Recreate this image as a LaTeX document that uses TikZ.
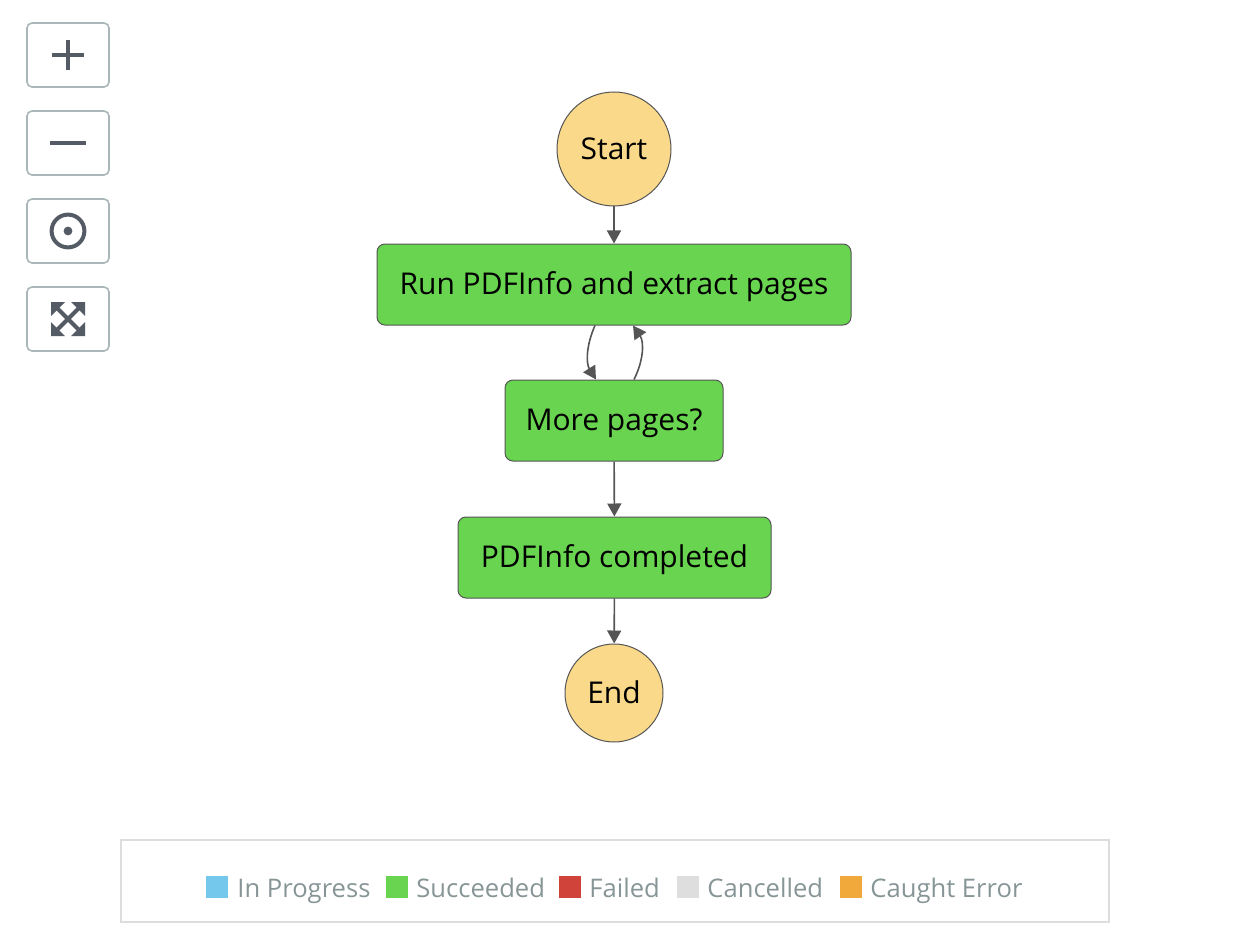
\documentclass[tikz,border=0pt]{standalone}
\usepackage{fontspec}
\setmainfont{Open Sans}
\usetikzlibrary{arrows.meta}

\definecolor{stategreen}{HTML}{69D44F}
\definecolor{termyellow}{HTML}{FADA8A}
\definecolor{edgegray}{HTML}{555555}
\definecolor{btngray}{HTML}{AAB7B8}
\definecolor{icongray}{HTML}{545B64}
\definecolor{legendgray}{HTML}{879596}
\definecolor{boxgray}{HTML}{DDDDDD}
\definecolor{keyblue}{HTML}{73C8EB}
\definecolor{keyred}{HTML}{D0433A}
\definecolor{keylight}{HTML}{DEDEDE}
\definecolor{keyorange}{HTML}{F2A93B}

\tikzset{
  state/.style={draw=edgegray, fill=stategreen, rounded corners=4pt, line width=0.5pt,
    minimum height=40.5pt, inner sep=0pt, text height=10.4pt, text depth=0pt,
    font=\fontsize{15}{18}\selectfont},
  terminal/.style={draw=edgegray, fill=termyellow, circle, line width=0.5pt,
    inner sep=0pt, text height=10.4pt, text depth=0pt, font=\fontsize{15}{18}\selectfont},
  flow/.style={draw=edgegray, line width=0.8pt, -{Triangle[length=6.5pt,width=7pt]}},
  ctrlbtn/.style={draw=btngray, line width=0.8pt, rounded corners=2.5pt,
    minimum width=41pt, minimum height=32pt, inner sep=0pt},
  legendkey/.style={minimum size=11pt, inner sep=0pt},
  legendtext/.style={text=legendgray, anchor=base west, inner sep=0pt, font=\fontsize{12.8}{15}\selectfont},
}

\begin{document}
\begin{tikzpicture}[x=0.5pt,y=-0.5pt]
\useasboundingbox (0,0) rectangle (1246,936);

% Zoom controls
\node[ctrlbtn] (zoomin) at (68,55) {};
\node[ctrlbtn] (zoomout) at (68,143) {};
\node[ctrlbtn] (center) at (68,231) {};
\node[ctrlbtn] (fit) at (68,319) {};
\draw[icongray, line width=2pt] (52,55) -- (84,55) (68,40) -- (68,70);
\draw[icongray, line width=2pt] (50,143) -- (86,143);
\draw[icongray, line width=2pt] (68,231) circle[radius=8.2pt];
\fill[icongray] (68,231) circle[radius=2.2pt];
\fill[icongray] (51,302) -- (65,302) -- (51,316) -- cycle
                (85,302) -- (71,302) -- (85,316) -- cycle
                (51,336) -- (65,336) -- (51,322) -- cycle
                (85,336) -- (71,336) -- (85,322) -- cycle;
\draw[icongray, line width=2.1pt] (54,305) -- (82,333) (82,305) -- (54,333);

% States
\node[terminal, minimum size=57pt] (start) at (614,149) {Start};
\node[state, minimum width=237pt] (run) at (614,284.5) {Run PDFInfo and extract pages};
\node[state, minimum width=109pt] (more) at (614,420.5) {More pages?};
\node[state, minimum width=156.5pt] (done) at (614.5,557.5) {PDFInfo completed};
\node[terminal, minimum size=49pt] (end) at (614,693) {End};

% Connections
\draw[flow] (start) -- (run);
\draw[flow] ([xshift=-9.5pt]run.south) .. controls ([xshift=-14pt,yshift=-10pt]run.south) and ([xshift=-14pt,yshift=8pt]more.north) .. ([xshift=-9pt]more.north);
\draw[flow] ([xshift=10pt]more.north) .. controls ([xshift=15pt,yshift=10pt]more.north) and ([xshift=15pt,yshift=-8pt]run.south) .. ([xshift=9.5pt]run.south);
\draw[flow] (more) -- (done);
\draw[flow] (done) -- (end);

% Legend
\node[draw=boxgray, line width=1pt, minimum width=494pt, minimum height=41pt, inner sep=0pt] (legend) at (615,881) {};
\node[legendkey, fill=keyblue] (kprog) at (216.5,887) {};
\node[legendtext] (tprog) at (237,897) {In Progress};
\node[legendkey, fill=stategreen] (ksucc) at (397,887) {};
\node[legendtext] (tsucc) at (416,897) {Succeeded};
\node[legendkey, fill=keyred] (kfail) at (569.5,887) {};
\node[legendtext] (tfail) at (589,897) {Failed};
\node[legendkey, fill=keylight] (kcanc) at (687.5,887) {};
\node[legendtext] (tcanc) at (707,897) {Cancelled};
\node[legendkey, fill=keyorange] (kcaught) at (850.5,887) {};
\node[legendtext] (tcaught) at (870,897) {Caught Error};
\end{tikzpicture}
\end{document}
